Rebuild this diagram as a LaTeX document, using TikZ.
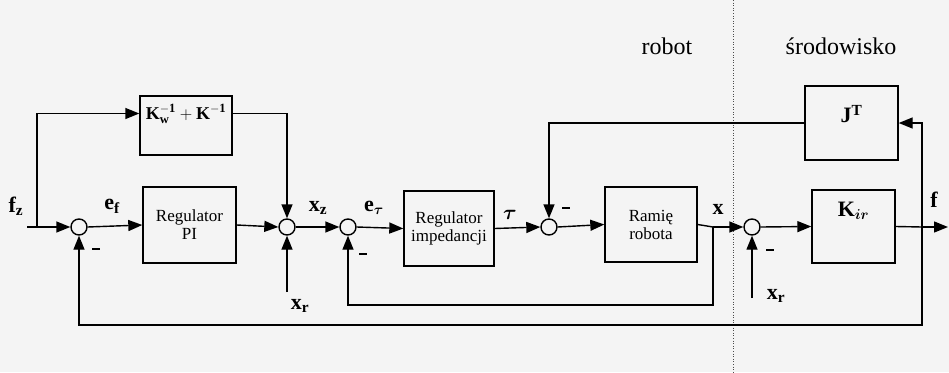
\documentclass[tikz,border=0pt]{standalone}
\usepackage{amsmath}
\usepackage{fontspec}
\setmainfont{Liberation Serif}
\usetikzlibrary{arrows.meta}

\begin{document}
\begin{tikzpicture}[x=1pt, y=-1pt, line width=1.4pt,
	>={Triangle[length=14pt,width=11pt]},
	blok/.style={draw, rectangle, inner sep=2pt, align=center, font=\fontsize{17}{18}\selectfont},
	sumator/.style={draw, circle, minimum size=16pt, inner sep=0pt},
	sygnal/.style={font=\fontsize{22}{24}\selectfont},
	minus/.style={inner sep=0pt}]
	\fill[gray!9] (0,0) rectangle (949,372);
	\useasboundingbox (0,0) rectangle (949,372);

	% granica robot / srodowisko
	\draw[line width=0.6pt, dotted, gray!60!black] (733,0) -- (733,372);
	\node[font=\fontsize{24}{26}\selectfont] (robot) at (667,46) {robot};
	\node[font=\fontsize{24}{26}\selectfont] (srod) at (841,46) {środowisko};

	% bloki
	\node[blok, minimum width=92pt, minimum height=59pt] (kk) at (186,125.5) {};
	\node[font=\fontsize{18}{20}\selectfont] (kktxt) at (186,114) {$\mathbf{K}_{\mathbf{w}}^{\mathbf{-1}}+\mathbf{K}^{\mathbf{-1}}$};
	\node[blok, minimum width=93pt, minimum height=76pt] (pi) at (189.5,225) {Regulator\\PI};
	\node[blok, minimum width=90pt, minimum height=75pt] (imp) at (449,228.5) {Regulator\\impedancji};
	\node[blok, minimum width=92pt, minimum height=75pt] (ram) at (651,224.5) {Ramię\\robota};
	\node[blok, minimum width=93pt, minimum height=74pt] (jt) at (851.5,123) {};
	\node[sygnal] (jttxt) at (851.5,114) {$\mathbf{J^T}$};
	\node[blok, minimum width=83pt, minimum height=73pt] (kir) at (853.5,226.5) {};
	\node[sygnal] (kirtxt) at (853.5,211) {$\mathbf{K}_{\boldsymbol{ir}}$};

	% sumatory
	\node[sumator] (s1) at (79,227) {};
	\node[sumator] (s2) at (287,227) {};
	\node[sumator] (s3) at (348,227) {};
	\node[sumator] (s4) at (549,227) {};
	\node[sumator] (s5) at (752,227) {};

	\coordinate (wej) at (27,227);
	\coordinate (rozg1) at (37,227);
	\coordinate (xr1) at (287,292);
	\coordinate (rozg2) at (713,227);
	\coordinate (xr2) at (752,298);
	\coordinate (rozg3) at (922,227);
	\coordinate (wyj) at (948,227);

	% sygnaly
	\node[sygnal] (fz) at (16,206) {$\mathbf{f_z}$};
	\node[sygnal] (ef) at (112,206) {$\mathbf{e_f}$};
	\node[sygnal] (xz) at (318,208) {$\mathbf{x_z}$};
	\node[sygnal] (et) at (374,208) {$\mathbf{e}_{\boldsymbol{\tau}}$};
	\node[sygnal] (tau) at (510,215) {$\boldsymbol{\tau}$};
	\node[sygnal] (x) at (718,209) {$\mathbf{x}$};
	\node[sygnal] (f) at (934,200) {$\mathbf{f}$};
	\node[sygnal] (xrA) at (300,306) {$\mathbf{x_r}$};
	\node[sygnal] (xrB) at (776,296) {$\mathbf{x_r}$};

	\node[minus] (m1) at (96,249) {\rule{8pt}{2.6pt}};
	\node[minus] (m3) at (363,254) {\rule{8pt}{2.6pt}};
	\node[minus] (m4) at (566,208) {\rule{8pt}{2.6pt}};
	\node[minus] (m5) at (770,250) {\rule{8pt}{2.6pt}};

	% polaczenia
	\draw (wej) -- (rozg1);
	\draw[->] (rozg1) -- (s1.west);
	\draw[->] (rozg1) |- ([yshift=12pt]kk.west);
	\draw[->] ([yshift=12pt]kk.east) -| (s2.north);
	\draw[->] (s1.east) -- (pi.west);
	\draw[->] (pi.east) -- (s2.west);
	\draw[->] (xr1) -- (s2.south);
	\draw[->] (s2.east) -- (s3.west);
	\draw[->] (s3.east) -- (imp.west);
	\draw[->] (imp.east) -- (s4.west);
	\draw[->] (s4.east) -- (ram.west);
	\draw (ram.east) -- (rozg2);
	\draw[->] (rozg2) -- (s5.west);
	\draw[->] (rozg2) -- ++(0,78) -| (s3.south);
	\draw[->] (xr2) -- (s5.south);
	\draw[->] (s5.east) -- (kir.west);
	\draw (kir.east) -- (rozg3);
	\draw[->] (rozg3) -- (wyj);
	\draw[->] (rozg3) |- (jt.east);
	\draw[->] (jt.west) -| (s4.north);
	\draw[->] (rozg3) -- ++(0,98) -| (s1.south);
\end{tikzpicture}
\end{document}
